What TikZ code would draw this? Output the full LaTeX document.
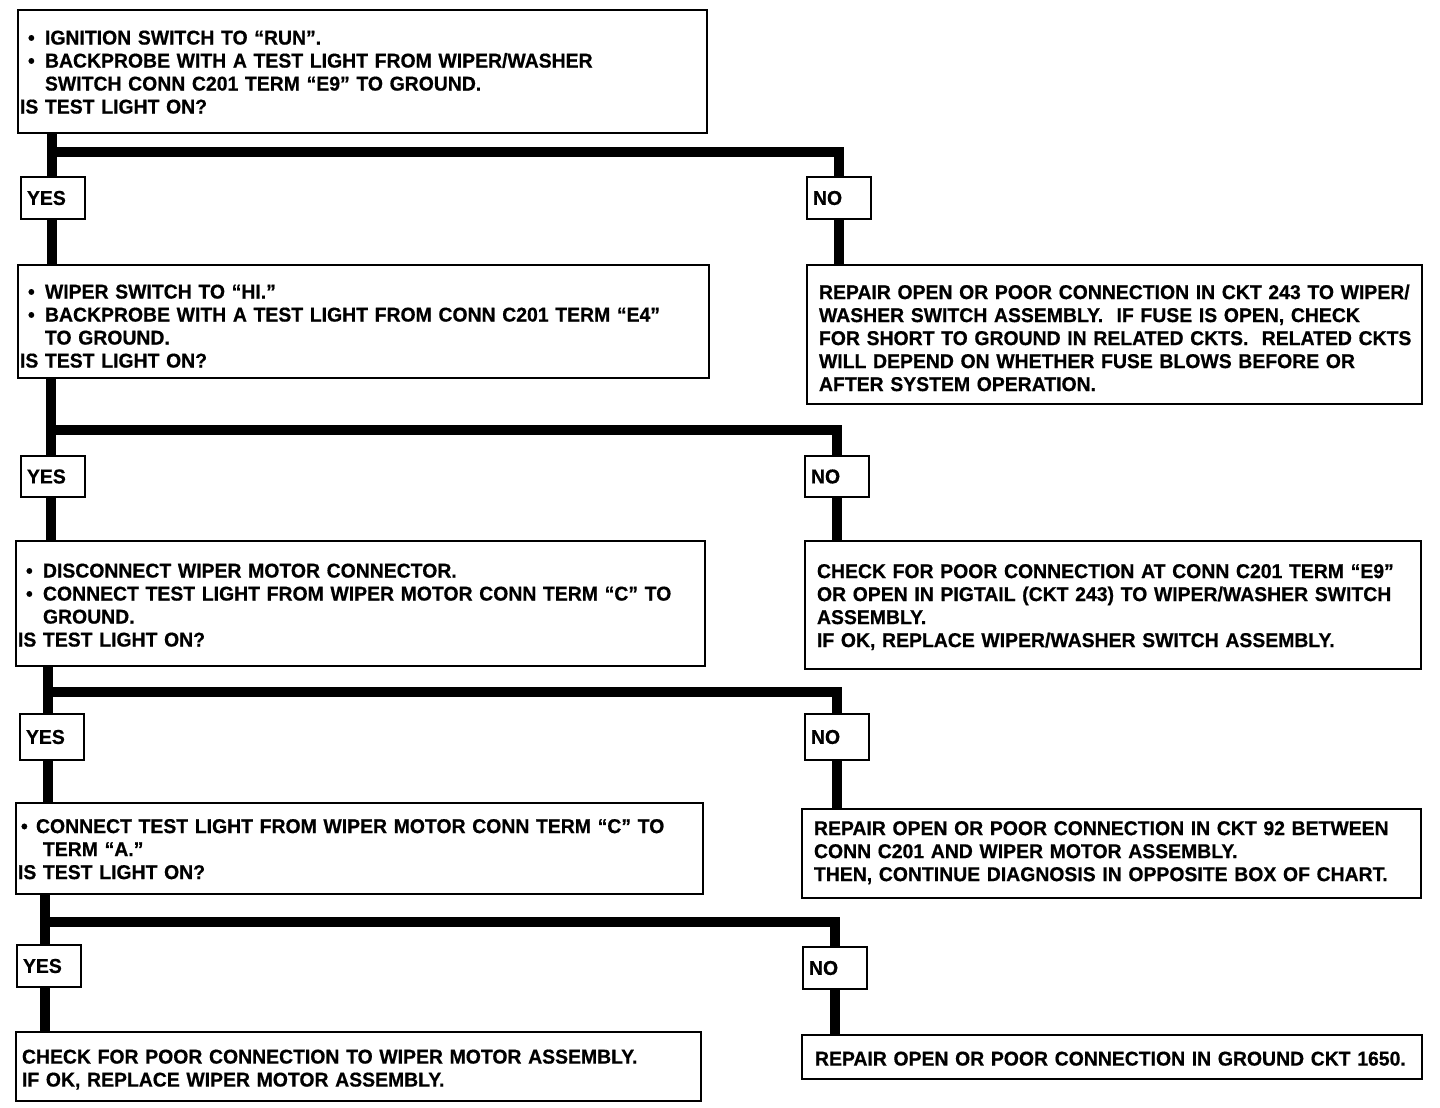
\documentclass[tikz,border=0pt]{standalone}
\usepackage{fontspec}
\setmainfont{Liberation Sans}[FakeStretch=0.97,BoldFeatures={FakeBold=0.6}]
\usetikzlibrary{backgrounds}
\newcommand\fs{\fontsize{20}{23}\selectfont\bfseries}
\newcommand\bul{\hspace*{8pt}\makebox[17pt][l]{•}}
\newcommand\bulb{\hspace*{3pt}\makebox[15pt][l]{•}}
\newcommand\ind{\hspace*{25pt}}
\newenvironment{txtlines}[1][24pt]{\begin{tabular}{@{}l@{}}\rule{0pt}{#1}\ignorespaces}{\end{tabular}}
\tikzset{
  qbox/.style 2 args={draw, line width=2pt, fill=white, anchor=north west, inner xsep=2pt, inner ysep=0pt,
     align=left, font=\fs, text width=#1, minimum height=#2},
  abox/.style 2 args={draw, line width=2pt, fill=white, anchor=north west, inner xsep=12pt, inner ysep=0pt,
     align=left, font=\fs, text width=#1, minimum height=#2},
  ans/.style={draw, line width=2pt, fill=white, anchor=north west, inner xsep=6pt, inner ysep=0pt,
     align=left, font=\fs, text width=52pt, minimum height=#1},
  conn/.style={line width=10pt, line join=miter}
}
\begin{document}
\begin{tikzpicture}[x=1pt,y=-1pt]
% question boxes
\node[qbox={685pt}{123pt}] (b1) at (17,9) {\begin{txtlines}[22pt]
\bul IGNITION SWITCH TO “RUN”.\\
\bul BACKPROBE WITH A TEST LIGHT FROM WIPER/WASHER\\
\ind SWITCH CONN C201 TERM “E9” TO GROUND.\\
IS TEST LIGHT ON?\end{txtlines}};
\node[qbox={687pt}{113pt}] (b2) at (17,264) {\begin{txtlines}[30pt]
\bul WIPER SWITCH TO “HI.”\\
\bul BACKPROBE WITH A TEST LIGHT FROM CONN C201 TERM “E4”\\
\ind TO GROUND.\\
IS TEST LIGHT ON?\end{txtlines}};
\node[qbox={685pt}{125pt}] (b3) at (15,540) {\begin{txtlines}
\bul DISCONNECT WIPER MOTOR CONNECTOR.\\
\bul CONNECT TEST LIGHT FROM WIPER MOTOR CONN TERM “C” TO\\
\ind GROUND.\\
IS TEST LIGHT ON?\end{txtlines}};
\node[qbox={683pt}{91pt}] (b4) at (15,802) {\begin{txtlines}[22pt]
\bulb CONNECT TEST LIGHT FROM WIPER MOTOR CONN TERM “C” TO\\
\ind TERM “A.”\\
IS TEST LIGHT ON?\end{txtlines}};
\node[abox={673pt}{69pt}, inner xsep=6pt] (b5) at (15,1031) {\begin{txtlines}
CHECK FOR POOR CONNECTION TO WIPER MOTOR ASSEMBLY.\\
IF OK, REPLACE WIPER MOTOR ASSEMBLY.\end{txtlines}};
% action boxes
\node[abox={591pt}{139pt}] (r1) at (806,264) {\begin{txtlines}[28pt]
REPAIR OPEN OR POOR CONNECTION IN CKT 243 TO WIPER/\\
WASHER SWITCH ASSEMBLY.\ \ IF FUSE IS OPEN, CHECK\\
FOR SHORT TO GROUND IN RELATED CKTS.\ \ RELATED CKTS\\
WILL DEPEND ON WHETHER FUSE BLOWS BEFORE OR\\
AFTER SYSTEM OPERATION.\end{txtlines}};
\node[abox={592pt}{128pt}] (r2) at (804,540) {\begin{txtlines}[22pt]
CHECK FOR POOR CONNECTION AT CONN C201 TERM “E9”\\
OR OPEN IN PIGTAIL (CKT 243) TO WIPER/WASHER SWITCH\\
ASSEMBLY.\\
IF OK, REPLACE WIPER/WASHER SWITCH ASSEMBLY.\end{txtlines}};
\node[abox={595pt}{89pt}] (r3) at (801,808) {\begin{txtlines}[0pt]
REPAIR OPEN OR POOR CONNECTION IN CKT 92 BETWEEN\\
CONN C201 AND WIPER MOTOR ASSEMBLY.\\
THEN, CONTINUE DIAGNOSIS IN OPPOSITE BOX OF CHART.\end{txtlines}};
\node[abox={594pt}{44pt}, inner xsep=13pt] (r4) at (801,1034) {\begin{txtlines}
REPAIR OPEN OR POOR CONNECTION IN GROUND CKT 1650.\end{txtlines}};
% yes / no labels
\node[ans=42pt] (yes1) at (20,176) {YES};
\node[ans=42pt] (no1) at (806,176) {NO};
\node[ans=41pt] (yes2) at (20,455) {YES};
\node[ans=41pt] (no2) at (804,455) {NO};
\node[ans=46pt] (yes3) at (19,713) {YES};
\node[ans=46pt] (no3) at (804,713) {NO};
\node[ans=42pt] (yes4) at (16,944) {YES};
\node[ans=42pt] (no4) at (802,946) {NO};
% helper coordinates
\coordinate (t1) at (52,0);
\coordinate (t2) at (51,0);
\coordinate (t3) at (48,0);
\coordinate (t4) at (45,0);
\coordinate (h1) at (0,152);
\coordinate (h2) at (0,430);
\coordinate (h3) at (0,692);
\coordinate (h4) at (0,922);
\begin{scope}[on background layer]
\fill[white] (0,0) rectangle (1440,1108);
% section 1
\draw[conn] (b1.south -| t1) -- (yes1.north -| t1);
\draw[conn] (t1 |- h1) -| (no1.north);
\draw[conn] (yes1.south -| t1) -- (b2.north -| t1);
\draw[conn] (no1.south) -- (no1.south |- r1.north);
% section 2
\draw[conn] (b2.south -| t2) -- (yes2.north -| t2);
\draw[conn] (t2 |- h2) -| (no2.north);
\draw[conn] (yes2.south -| t2) -- (b3.north -| t2);
\draw[conn] (no2.south) -- (no2.south |- r2.north);
% section 3
\draw[conn] (b3.south -| t3) -- (yes3.north -| t3);
\draw[conn] (t3 |- h3) -| (no3.north);
\draw[conn] (yes3.south -| t3) -- (b4.north -| t3);
\draw[conn] (no3.south) -- (no3.south |- r3.north);
% section 4
\draw[conn] (b4.south -| t4) -- (yes4.north -| t4);
\draw[conn] (t4 |- h4) -| (no4.north);
\draw[conn] (yes4.south -| t4) -- (b5.north -| t4);
\draw[conn] (no4.south) -- (no4.south |- r4.north);
\end{scope}
\end{tikzpicture}
\end{document}
